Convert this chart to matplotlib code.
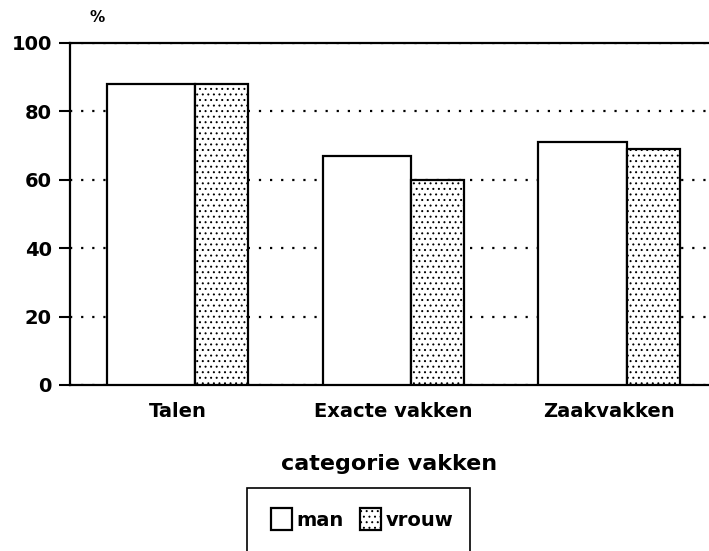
import matplotlib
matplotlib.use('Agg')
import matplotlib.pyplot as plt
from matplotlib.patches import Rectangle
import numpy as np

# data
categories = ['Talen', 'Exacte vakken', 'Zaakvakken']
man = [88, 67, 71]
vrouw = [88, 60, 69]

plt.rcParams['font.family'] = ['DejaVu Sans']
plt.rcParams['font.weight'] = 'bold'
plt.rcParams['hatch.linewidth'] = 0.7

fig = plt.figure(figsize=(7.09, 5.51), dpi=100)
ax = fig.add_axes([70 / 709, 1 - 385 / 551, 1 - 70 / 709, (385 - 43) / 551])

x = np.arange(len(categories))
w_man = 0.41
w_vrouw = 0.245
ax.bar(x - w_man / 2, man, width=w_man, color='white', edgecolor='black',
       linewidth=1.6, label='man', zorder=3)
ax.bar(x + w_vrouw / 2, vrouw, width=w_vrouw, color='white', edgecolor='black',
       linewidth=1.6, hatch='...', label='vrouw', zorder=3)

ax.set_xlim(-0.58, 2.38)
ax.set_ylim(0, 100)
ax.set_yticks([0, 20, 40, 60, 80, 100])
ax.yaxis.grid(True, color='black', linestyle=(0, (1, 4)), linewidth=1.6)
ax.set_axisbelow(True)

ax.set_xticks(x + (w_vrouw - w_man) / 2)
ax.set_xticklabels(categories, fontsize=14, fontweight='bold')
ax.tick_params(axis='x', length=0, pad=12)
ax.tick_params(axis='y', length=8, width=1.5, labelsize=14, pad=5)
for lab in ax.get_yticklabels():
    lab.set_fontweight('bold')

ax.spines['right'].set_visible(False)
for s in ['left', 'top', 'bottom']:
    ax.spines[s].set_linewidth(1.6)

ax.set_xlabel('categorie vakken', fontsize=16, fontweight='bold', labelpad=24)
fig.text(97 / 709, 1 - 18 / 551, '%', fontsize=11, fontweight='bold',
         ha='center', va='center')

leg = fig.legend(loc='center left', bbox_to_anchor=(253 / 709, 1 - 519 / 551),
                 ncol=2, frameon=False, fontsize=14, handlelength=1.1,
                 handleheight=1.3, handletextpad=0.25, columnspacing=0.8)
for t in leg.get_texts():
    t.set_fontweight('bold')
fig.patches.append(Rectangle((247 / 709, -0.02), (470 - 247) / 709,
                             0.02 + (551 - 488) / 551, transform=fig.transFigure,
                             fill=False, edgecolor='black', linewidth=1.2))

fig.savefig('out.png', dpi=100)
